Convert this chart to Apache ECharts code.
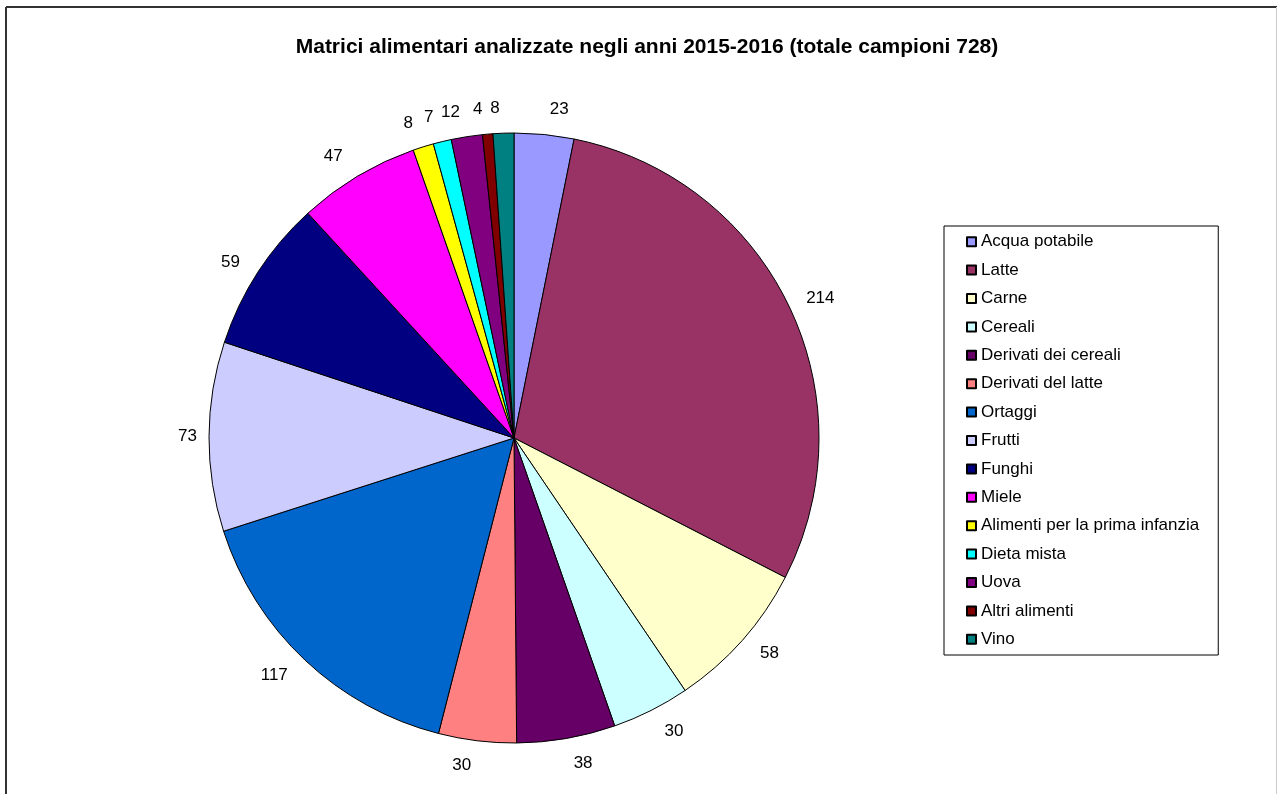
<!DOCTYPE html>
<html>
<head>
<meta charset="utf-8">
<script src="https://cdn.jsdelivr.net/npm/echarts@6/dist/echarts.min.js"></script>
<style>
  html, body { margin: 0; padding: 0; background: #fff; }
  #chart { width: 1277px; height: 794px; }
</style>
</head>
<body>
<div id="chart"></div>
<script>
// Categorie di matrici alimentari e numero di campioni
const categories = [
  'Acqua potabile', 'Latte', 'Carne', 'Cereali', 'Derivati dei cereali',
  'Derivati del latte', 'Ortaggi', 'Frutti', 'Funghi', 'Miele',
  'Alimenti per la prima infanzia', 'Dieta mista', 'Uova', 'Altri alimenti', 'Vino'
];
const campioni = [23, 214, 58, 30, 38, 30, 117, 73, 59, 47, 8, 7, 12, 4, 8];
const colori = [
  '#9999FF', '#993366', '#FFFFCC', '#CCFFFF', '#660066',
  '#FF8080', '#0066CC', '#CCCCFF', '#000080', '#FF00FF',
  '#FFFF00', '#00FFFF', '#800080', '#800000', '#008080'
];
const titolo = 'Matrici alimentari analizzate negli anni 2015-2016 (totale campioni 728)';

const font = "'Liberation Sans', Arial, sans-serif";

// Labels sit a little further out near the top and bottom of the pie,
// so that their text box (not its centre) keeps a steady gap from the rim.
const totale = campioni.reduce((a, b) => a + b, 0);
let cumulato = 0;
const datiTorta = categories.map((name, i) => {
  const medio = (cumulato + campioni[i] / 2) / totale * 2 * Math.PI;
  cumulato += campioni[i];
  const distanza = 9 + 16 * Math.abs(Math.cos(medio));
  return { name: name, value: campioni[i], labelLine: { length: distanza, length2: 0, show: false } };
});

const chart = echarts.init(document.getElementById('chart'), null, { renderer: 'canvas' });

chart.setOption({
  animation: false,
  backgroundColor: '#fff',
  color: colori,
  title: {
    text: titolo,
    left: 642,
    top: 32,
    textAlign: 'center',
    textStyle: { fontFamily: font, fontSize: 21, fontWeight: 'bold', color: '#000' }
  },
  graphic: [
    { type: 'line', shape: { x1: 6, y1: 800, x2: 6, y2: 7 }, style: { stroke: '#333', lineWidth: 2 } },
    { type: 'line', shape: { x1: 6, y1: 7, x2: 1277, y2: 7 }, style: { stroke: '#333', lineWidth: 2 } },
    { type: 'line', shape: { x1: 1276.5, y1: 7, x2: 1276.5, y2: 800 }, style: { stroke: '#ccc', lineWidth: 1 } }
  ],
  legend: {
    orient: 'vertical',
    left: 944,
    top: 226,
    padding: [6.7, 19, 6.7, 22],
    itemWidth: 9,
    itemHeight: 9,
    itemGap: 10.4,
    borderColor: '#000',
    borderWidth: 1,
    icon: 'rect',
    selectedMode: false,
    data: categories,
    textStyle: { fontFamily: font, fontSize: 17, color: '#000', lineHeight: 18, height: 18 }
  },
  series: [{
    type: 'pie',
    center: [514, 438],
    radius: [0, 305],
    startAngle: 90,
    clockwise: true,
    avoidLabelOverlap: false,
    itemStyle: { borderColor: '#000', borderWidth: 1 },
    emphasis: { disabled: true },
    label: {
      show: true,
      position: 'outside',
      formatter: '{c}',
      fontFamily: font,
      fontSize: 17,
      color: '#000',
      distanceToLabelLine: 3
    },
    labelLine: { show: false, length: 16, length2: 0 },
    data: datiTorta
  }]
});
</script>
</body>
</html>
